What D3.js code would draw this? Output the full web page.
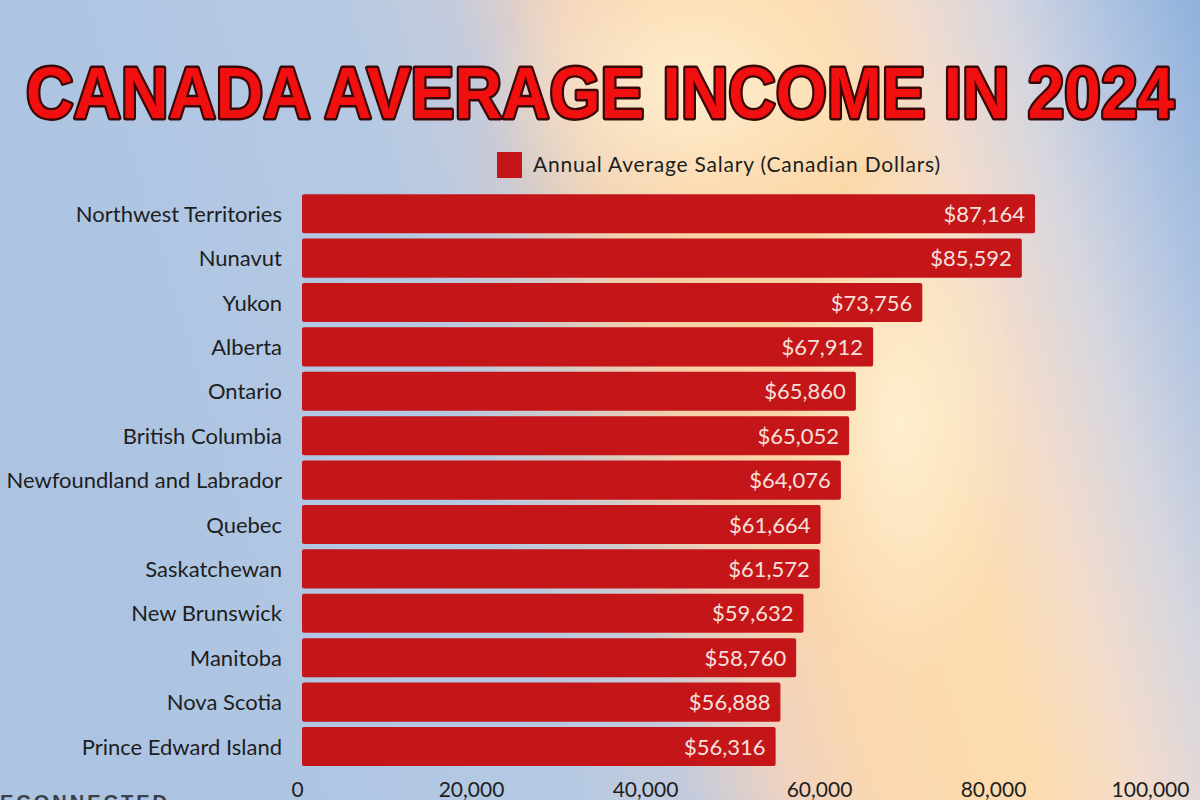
<!DOCTYPE html>
<html>
<head>
<meta charset="utf-8">
<script src="https://cdn.jsdelivr.net/npm/d3@7"></script>
<style>
  html, body { margin: 0; padding: 0; background: #b3c8e3; }
  #chart { width: 1200px; height: 800px; }
</style>
</head>
<body>
<div id="chart"></div>
<script>
// Data
const provinces = [
    'Northwest Territories', 'Nunavut', 'Yukon', 'Alberta', 'Ontario',
    'British Columbia', 'Newfoundland and Labrador', 'Quebec', 'Saskatchewan',
    'New Brunswick', 'Manitoba', 'Nova Scotia', 'Prince Edward Island'
];
const salaries = [87164, 85592, 73756, 67912, 65860, 65052, 64076, 61664, 61572, 59632, 58760, 56888, 56316];
const tickValues = [0, 20000, 40000, 60000, 80000, 100000];
const titleText = 'CANADA AVERAGE INCOME IN 2024';
const legendLabel = 'Annual Average Salary (Canadian Dollars)';

const data = provinces.map((p, i) => ({ province: p, salary: salaries[i] }));

const W = 1200, H = 800;
const font = 'Lato, "Open Sans", sans-serif';
const barColor = '#c41518';

const svg = d3.select('#chart')
    .append('svg')
    .attr('width', W)
    .attr('height', H);

// Background: cool blue on the sides, warm glow through the middle
const defs = svg.append('defs');
const bg = defs.append('linearGradient')
    .attr('id', 'bg')
    .attr('x1', '0').attr('y1', '0.2')
    .attr('x2', '1').attr('y2', '0');
[
    [0, '#acc4e2'], [0.3, '#b5c9e3'], [0.4, '#c4cbdc'], [0.48, '#efd2c0'],
    [0.56, '#fbd8ae'], [0.68, '#fcdcae'], [0.76, '#f3dccb'], [0.84, '#d6d6df'],
    [0.92, '#b0c4e2'], [1, '#8fb1dc']
].forEach(([o, c]) => bg.append('stop').attr('offset', o).attr('stop-color', c));

const glow = defs.append('radialGradient')
    .attr('id', 'glow')
    .attr('cx', 0.5).attr('cy', 0.5).attr('r', 0.5);
glow.append('stop').attr('offset', 0).attr('stop-color', '#fff6dc').attr('stop-opacity', 0.75);
glow.append('stop').attr('offset', 1).attr('stop-color', '#fff6dc').attr('stop-opacity', 0);

const warm = defs.append('radialGradient')
    .attr('id', 'warm')
    .attr('cx', 0.5).attr('cy', 0.5).attr('r', 0.5);
warm.append('stop').attr('offset', 0).attr('stop-color', '#f9c98e').attr('stop-opacity', 0.55);
warm.append('stop').attr('offset', 1).attr('stop-color', '#f9c98e').attr('stop-opacity', 0);

svg.append('rect').attr('width', W).attr('height', H).attr('fill', 'url(#bg)');
svg.append('ellipse').attr('cx', 700).attr('cy', 300).attr('rx', 260).attr('ry', 420).attr('fill', 'url(#warm)');
svg.append('ellipse').attr('cx', 690).attr('cy', 90).attr('rx', 200).attr('ry', 160).attr('fill', 'url(#glow)');
svg.append('ellipse').attr('cx', 900).attr('cy', 420).attr('rx', 120).attr('ry', 260).attr('fill', 'url(#glow)');

// Title (smaller font stretched vertically so its natural width stays inside the page)
svg.append('text')
    .attr('transform', `translate(${W / 2},118) scale(1,1.07)`)
    .attr('text-anchor', 'middle')
    .attr('textLength', 1148)
    .attr('lengthAdjust', 'spacingAndGlyphs')
    .style('font-family', '"Liberation Sans", Arial, sans-serif')
    .style('font-weight', 'bold')
    .style('font-size', '67px')
    .attr('fill', '#f20f0f')
    .attr('stroke', '#3b0808')
    .attr('stroke-width', 4.5)
    .attr('stroke-linejoin', 'round')
    .attr('paint-order', 'stroke')
    .text(titleText);

// Scales
const x = d3.scaleLinear()
    .domain([0, 100000])
    .range([302, 1143]);

// tick labels in the picture sit on a slightly wider spacing than the bars
const xTicks = d3.scaleLinear()
    .domain([0, 100000])
    .range([297, 1167]);

const y = d3.scaleBand()
    .domain(provinces)
    .range([191.5, 768.7])
    .paddingInner(0.12)
    .paddingOuter(0.06);

// Legend
const legend = svg.append('g').attr('transform', 'translate(497,152)');
legend.append('rect')
    .attr('width', 25).attr('height', 26)
    .attr('fill', barColor);
legend.append('text')
    .attr('x', 36).attr('y', 20)
    .style('font-family', font)
    .style('font-size', '21px')
    .style('letter-spacing', '0.8px')
    .attr('fill', '#1e1e1e')
    .text(legendLabel);

// Bars
svg.selectAll('rect.bar')
    .data(data)
    .enter()
    .append('rect')
    .attr('class', 'bar')
    .attr('x', x(0))
    .attr('y', d => y(d.province))
    .attr('width', d => x(d.salary) - x(0))
    .attr('height', y.bandwidth())
    .attr('rx', 2)
    .attr('fill', barColor);

// Value labels inside bar ends
svg.selectAll('text.value')
    .data(data)
    .enter()
    .append('text')
    .attr('class', 'value')
    .attr('x', d => x(d.salary) - 10)
    .attr('y', d => y(d.province) + y.bandwidth() / 2 + 8)
    .attr('text-anchor', 'end')
    .style('font-family', font)
    .style('font-size', '22px')
    .attr('fill', '#f6e0dc')
    .text(d => '$' + d3.format(',')(d.salary));

// Category labels
svg.selectAll('text.cat')
    .data(data)
    .enter()
    .append('text')
    .attr('class', 'cat')
    .attr('x', 282)
    .attr('y', d => y(d.province) + y.bandwidth() / 2 + 8)
    .attr('text-anchor', 'end')
    .style('font-family', font)
    .style('font-size', '22px')
    .attr('fill', '#1e1e1e')
    .text(d => d.province);

// X axis (labels only)
const xAxis = svg.append('g')
    .attr('transform', 'translate(0,774)')
    .call(d3.axisBottom(xTicks).tickValues(tickValues).tickFormat(d3.format(',')).tickSize(0).tickPadding(0));
xAxis.select('.domain').remove();
xAxis.selectAll('text')
    .attr('dy', '0')
    .attr('y', 23)
    .style('font-family', font)
    .style('font-size', '21px')
    .attr('fill', '#1e1e1e');
xAxis.selectAll('.tick').filter(d => d === 100000).select('text').attr('dx', -17);

// Watermark cut off at the bottom edge, as in the picture
svg.append('text')
    .attr('x', 0)
    .attr('y', 809)
    .style('font-family', '"Liberation Sans", Arial, sans-serif')
    .style('font-weight', 'bold')
    .style('font-size', '20px')
    .style('letter-spacing', '3px')
    .attr('fill', '#3a3f48')
    .text('ECONNECTED');
</script>
</body>
</html>
